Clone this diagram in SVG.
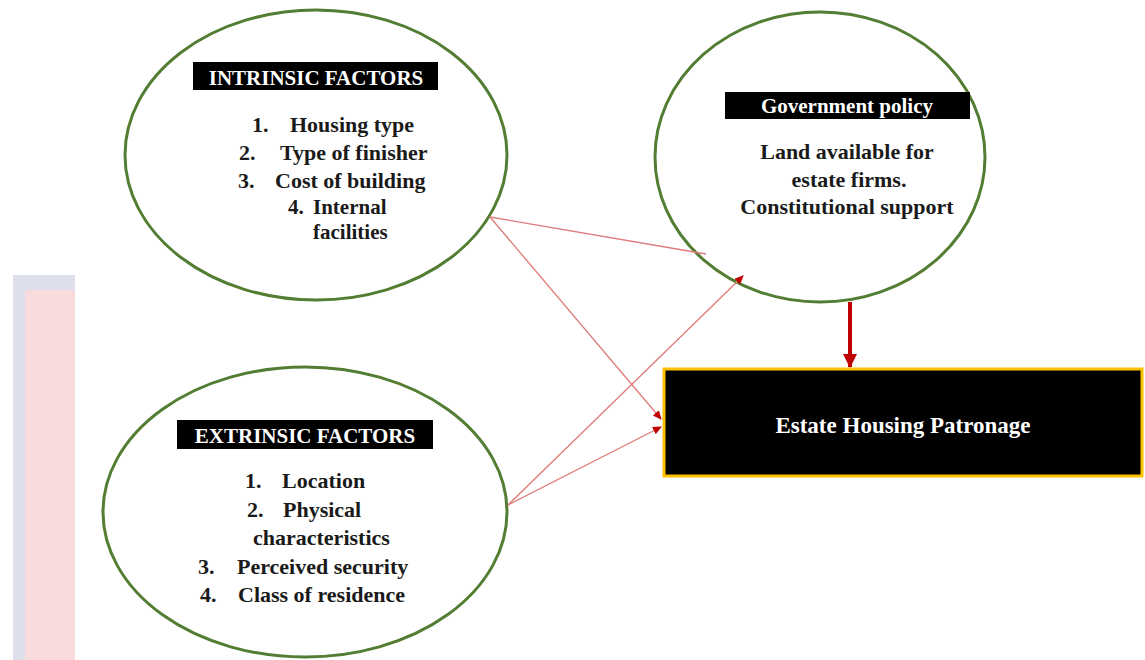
<svg xmlns="http://www.w3.org/2000/svg" width="1145" height="660" viewBox="0 0 1145 660">
<style>
.ell{fill:#ffffff;stroke:#527d32;stroke-width:3}
.t{font-family:"Liberation Serif","Times New Roman",serif;font-weight:bold;font-size:22px;fill:#1a1a1a}
.s{font-size:21px}
.lab{font-family:"Liberation Serif","Times New Roman",serif;font-weight:bold;font-size:21px;fill:#ffffff}
.thin{stroke:#e07a7a;stroke-width:1.3;fill:none}
</style>
<defs>
<marker id="ah" markerWidth="10" markerHeight="10" refX="8" refY="5" orient="auto" markerUnits="userSpaceOnUse">
<path d="M0,1 L9,5 L0,9 Z" fill="#c00000"/>
</marker>
<marker id="ahb" markerWidth="16" markerHeight="14" refX="13" refY="7" orient="auto" markerUnits="userSpaceOnUse">
<path d="M0,0 L14,7 L0,14 Z" fill="#c00000"/>
</marker>
</defs>
<rect width="1145" height="660" fill="#ffffff"/>
<g id="background">
<rect x="13" y="275" width="62" height="385" fill="#dde0ec"/>
<rect x="25" y="290" width="50" height="370" fill="#f8dcdd"/>
</g>
<g id="intrinsic">
<ellipse class="ell" cx="316" cy="155" rx="191" ry="145"/>
<rect x="193" y="62" width="245" height="28" fill="#000"/>
<text class="lab" x="316" y="85" text-anchor="middle">INTRINSIC FACTORS</text>
<text class="t" x="252" y="132">1.</text><text class="t" x="290" y="132">Housing type</text>
<text class="t" x="239" y="160">2.</text><text class="t" x="280" y="160">Type of finisher</text>
<text class="t" x="238" y="188">3.</text><text class="t" x="275" y="188">Cost of building</text>
<text class="t s" x="288" y="214">4.</text><text class="t s" x="313" y="214">Internal</text>
<text class="t s" x="313" y="239">facilities</text>
</g>
<g id="government">
<ellipse class="ell" cx="820" cy="157" rx="165" ry="145"/>
<rect x="725" y="92" width="245" height="27" fill="#000"/>
<text class="lab" x="847" y="113" text-anchor="middle">Government policy</text>
<text class="t" x="847" y="159" text-anchor="middle">Land available for</text>
<text class="t" x="849" y="187" text-anchor="middle">estate firms.</text>
<text class="t" x="847" y="214" text-anchor="middle">Constitutional support</text>
</g>
<g id="extrinsic">
<ellipse class="ell" cx="305" cy="512" rx="202" ry="145"/>
<rect x="177" y="420" width="256" height="29" fill="#000"/>
<text class="lab" x="305" y="443" text-anchor="middle">EXTRINSIC FACTORS</text>
<text class="t" x="245" y="488">1.</text><text class="t" x="282" y="488">Location</text>
<text class="t" x="247" y="517">2.</text><text class="t" x="283" y="517">Physical</text>
<text class="t" x="253" y="545">characteristics</text>
<text class="t" x="198" y="574">3.</text><text class="t" x="237" y="574">Perceived security</text>
<text class="t" x="200" y="602">4.</text><text class="t" x="238" y="602">Class of residence</text>
</g>
<g id="patronage">
<rect x="664" y="369" width="478" height="107" fill="#000" stroke="#ffc000" stroke-width="3"/>
<text x="903" y="433" text-anchor="middle" font-family="Liberation Serif, Times New Roman, serif" font-weight="bold" font-size="23" fill="#ffffff">Estate Housing Patronage</text>
</g>
<g id="connectors">
<line class="thin" x1="490" y1="217" x2="706" y2="254"/>
<line class="thin" x1="490" y1="217" x2="661" y2="419" marker-end="url(#ah)"/>
<line class="thin" x1="508" y1="505" x2="661" y2="427" marker-end="url(#ah)"/>
<line class="thin" x1="508" y1="505" x2="743" y2="276" marker-end="url(#ah)"/>
<line x1="850" y1="302" x2="850" y2="367" stroke="#c00000" stroke-width="4" marker-end="url(#ahb)"/>
</g>
</svg>
